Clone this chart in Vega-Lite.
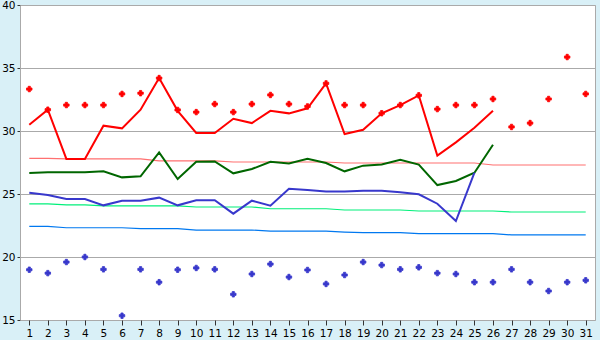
{
  "$schema": "https://vega.github.io/schema/vega-lite/v6.json",
  "width": 575,
  "height": 315,
  "autosize": {"type": "none"},
  "padding": {"left": 20, "top": 5, "right": 5, "bottom": 20},
  "background": "#D9F0F7",
  "config": {
    "view": {"fill": "white", "stroke": "#aaaaaa", "strokeWidth": 1},
    "axis": {"labelFont": "DejaVu Sans", "labelFontSize": 10.5, "labelColor": "#000000", "gridColor": "#aaaaaa", "domainColor": "#aaaaaa", "tickColor": "#333333", "title": null}
  },
  "data": {"values": [
    {"day": 1, "hi": 33.33, "hiL": 30.5, "mean": 26.67, "loL": 25.1, "lo": 18.99, "nHi": 27.83, "nMean": 24.21, "nLo": 22.43},
    {"day": 2, "hi": 31.69, "hiL": 31.69, "mean": 26.72, "loL": 24.92, "lo": 18.72, "nHi": 27.83, "nMean": 24.21, "nLo": 22.43},
    {"day": 3, "hi": 32.06, "hiL": 27.78, "mean": 26.72, "loL": 24.6, "lo": 19.6, "nHi": 27.78, "nMean": 24.13, "nLo": 22.32},
    {"day": 4, "hi": 32.06, "hiL": 27.78, "mean": 26.72, "loL": 24.6, "lo": 20.0, "nHi": 27.78, "nMean": 24.13, "nLo": 22.32},
    {"day": 5, "hi": 32.06, "hiL": 30.42, "mean": 26.8, "loL": 24.1, "lo": 19.02, "nHi": 27.78, "nMean": 24.05, "nLo": 22.32},
    {"day": 6, "hi": 32.94, "hiL": 30.21, "mean": 26.32, "loL": 24.47, "lo": 15.34, "nHi": 27.78, "nMean": 24.05, "nLo": 22.32},
    {"day": 7, "hi": 33.0, "hiL": 31.69, "mean": 26.4, "loL": 24.47, "lo": 19.02, "nHi": 27.78, "nMean": 24.05, "nLo": 22.25},
    {"day": 8, "hi": 34.2, "hiL": 34.2, "mean": 28.3, "loL": 24.71, "lo": 18.0, "nHi": 27.63, "nMean": 24.05, "nLo": 22.25},
    {"day": 9, "hi": 31.67, "hiL": 31.6, "mean": 26.19, "loL": 24.1, "lo": 18.99, "nHi": 27.63, "nMean": 24.05, "nLo": 22.25},
    {"day": 10, "hi": 31.5, "hiL": 29.84, "mean": 27.56, "loL": 24.5, "lo": 19.13, "nHi": 27.63, "nMean": 23.97, "nLo": 22.14},
    {"day": 11, "hi": 32.14, "hiL": 29.84, "mean": 27.58, "loL": 24.5, "lo": 19.02, "nHi": 27.63, "nMean": 23.97, "nLo": 22.14},
    {"day": 12, "hi": 31.5, "hiL": 30.97, "mean": 26.64, "loL": 23.44, "lo": 17.04, "nHi": 27.54, "nMean": 23.97, "nLo": 22.14},
    {"day": 13, "hi": 32.14, "hiL": 30.63, "mean": 26.98, "loL": 24.47, "lo": 18.65, "nHi": 27.54, "nMean": 23.97, "nLo": 22.14},
    {"day": 14, "hi": 32.86, "hiL": 31.6, "mean": 27.56, "loL": 24.07, "lo": 19.44, "nHi": 27.54, "nMean": 23.83, "nLo": 22.06},
    {"day": 15, "hi": 32.14, "hiL": 31.4, "mean": 27.43, "loL": 25.42, "lo": 18.41, "nHi": 27.54, "nMean": 23.83, "nLo": 22.06},
    {"day": 16, "hi": 31.95, "hiL": 31.8, "mean": 27.8, "loL": 25.31, "lo": 18.97, "nHi": 27.54, "nMean": 23.83, "nLo": 22.06},
    {"day": 17, "hi": 33.78, "hiL": 33.78, "mean": 27.46, "loL": 25.2, "lo": 17.86, "nHi": 27.54, "nMean": 23.83, "nLo": 22.06},
    {"day": 18, "hi": 32.06, "hiL": 29.76, "mean": 26.8, "loL": 25.2, "lo": 18.57, "nHi": 27.46, "nMean": 23.73, "nLo": 21.98},
    {"day": 19, "hi": 32.06, "hiL": 30.1, "mean": 27.25, "loL": 25.26, "lo": 19.6, "nHi": 27.46, "nMean": 23.73, "nLo": 21.93},
    {"day": 20, "hi": 31.41, "hiL": 31.41, "mean": 27.35, "loL": 25.26, "lo": 19.36, "nHi": 27.46, "nMean": 23.73, "nLo": 21.93},
    {"day": 21, "hi": 32.06, "hiL": 32.06, "mean": 27.72, "loL": 25.13, "lo": 19.02, "nHi": 27.46, "nMean": 23.73, "nLo": 21.93},
    {"day": 22, "hi": 32.83, "hiL": 32.83, "mean": 27.33, "loL": 24.98, "lo": 19.18, "nHi": 27.46, "nMean": 23.65, "nLo": 21.85},
    {"day": 23, "hi": 31.74, "hiL": 28.05, "mean": 25.71, "loL": 24.23, "lo": 18.72, "nHi": 27.46, "nMean": 23.65, "nLo": 21.85},
    {"day": 24, "hi": 32.06, "hiL": 29.1, "mean": 26.03, "loL": 22.85, "lo": 18.65, "nHi": 27.46, "nMean": 23.65, "nLo": 21.85},
    {"day": 25, "hi": 32.06, "hiL": 30.25, "mean": 26.69, "loL": 26.69, "lo": 18.0, "nHi": 27.46, "nMean": 23.65, "nLo": 21.85},
    {"day": 26, "hi": 32.54, "hiL": 31.6, "mean": 28.91, "loL": null, "lo": 18.0, "nHi": 27.3, "nMean": 23.65, "nLo": 21.85},
    {"day": 27, "hi": 30.32, "hiL": null, "mean": null, "loL": null, "lo": 19.02, "nHi": 27.3, "nMean": 23.57, "nLo": 21.75},
    {"day": 28, "hi": 30.63, "hiL": null, "mean": null, "loL": null, "lo": 18.0, "nHi": 27.3, "nMean": 23.57, "nLo": 21.75},
    {"day": 29, "hi": 32.54, "hiL": null, "mean": null, "loL": null, "lo": 17.3, "nHi": 27.3, "nMean": 23.57, "nLo": 21.75},
    {"day": 30, "hi": 35.87, "hiL": null, "mean": null, "loL": null, "lo": 18.0, "nHi": 27.3, "nMean": 23.57, "nLo": 21.75},
    {"day": 31, "hi": 32.94, "hiL": null, "mean": null, "loL": null, "lo": 18.15, "nHi": 27.3, "nMean": 23.57, "nLo": 21.75}
  ]},
  "encoding": {
    "x": {"field": "day", "type": "ordinal", "scale": {"type": "point", "padding": 0.5},
      "axis": {"labelAngle": 0, "tickSize": 5, "labelPadding": 3, "grid": false, "domain": false}}
  },
  "layer": [
    {"mark": {"type": "line", "color": "#FF7070", "strokeWidth": 1.2},
     "encoding": {"y": {"field": "nHi", "type": "quantitative", "scale": {"domain": [15, 40], "nice": false, "zero": false},
       "axis": {"values": [15, 20, 25, 30, 35, 40], "tickSize": 3, "labelPadding": 2, "grid": true, "domain": true}}}},
    {"mark": {"type": "line", "color": "#00F07A", "strokeWidth": 1.2},
     "encoding": {"y": {"field": "nMean", "type": "quantitative"}}},
    {"mark": {"type": "line", "color": "#0078F0", "strokeWidth": 1.2},
     "encoding": {"y": {"field": "nLo", "type": "quantitative"}}},
    {"mark": {"type": "line", "color": "#FF0000", "strokeWidth": 2},
     "encoding": {"y": {"field": "hiL", "type": "quantitative"}}},
    {"mark": {"type": "line", "color": "#006600", "strokeWidth": 2},
     "encoding": {"y": {"field": "mean", "type": "quantitative"}}},
    {"mark": {"type": "line", "color": "#3838CC", "strokeWidth": 2},
     "encoding": {"y": {"field": "loL", "type": "quantitative"}}},
    {"mark": {"type": "point", "shape": "cross", "filled": true, "color": "#FF0000", "stroke": "#FF0000", "strokeWidth": 0.8, "size": 30, "opacity": 1},
     "encoding": {"y": {"field": "hi", "type": "quantitative"}}},
    {"mark": {"type": "point", "shape": "cross", "filled": true, "color": "#3838CC", "stroke": "#3838CC", "strokeWidth": 0.8, "size": 30, "opacity": 1},
     "encoding": {"y": {"field": "lo", "type": "quantitative"}}}
  ]
}
